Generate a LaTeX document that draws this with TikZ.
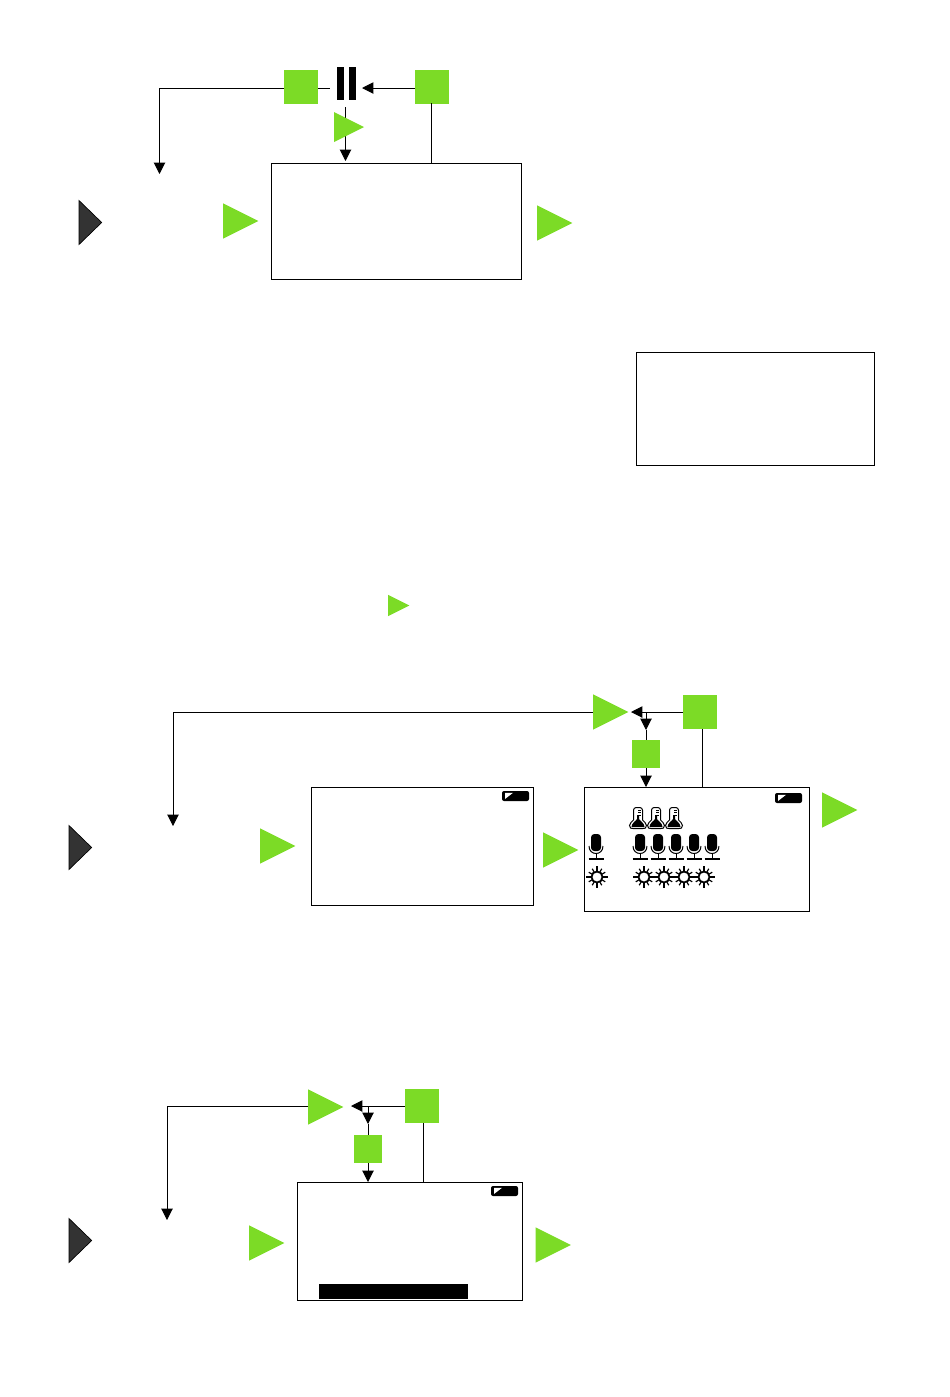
\documentclass[tikz,border=0pt]{standalone}
\usepackage{xcolor}
\definecolor{mygreen}{RGB}{124,219,38}
\definecolor{mydark}{RGB}{51,51,51}
\usetikzlibrary{arrows.meta, positioning, shapes.geometric, calc}

\tikzset{
  greenbox/.style={fill=mygreen, inner sep=0pt, outer sep=0pt, minimum width=25.5pt, minimum height=25.5pt},
  smallbox/.style={fill=mygreen, inner sep=0pt, outer sep=0pt, minimum width=21pt, minimum height=21pt},
  greentri/.style={isosceles triangle, isosceles triangle stretches, fill=mygreen, inner sep=0pt, outer sep=0pt,
    minimum width=26.5pt, minimum height=26.5pt, anchor=lower side},
  darktri/.style={isosceles triangle, isosceles triangle stretches, fill=mydark, draw=black, line width=0.5pt, inner sep=0pt, outer sep=0pt,
    minimum width=33pt, minimum height=17pt, anchor=lower side},
  screen/.style={draw=black, line width=0.75pt, inner sep=0pt, outer sep=0pt},
  blackbar/.style={fill=black, inner sep=0pt, outer sep=0pt},
  line/.style={black, line width=0.75pt},
  flow/.style={black, line width=0.75pt, -{Triangle[length=8.5pt,width=8.5pt]}},
  pics/battery/.style={code={
    \fill[black, rounded corners=1.5pt] (-13.5,-5) rectangle (13.5,5);
    \fill[white] (-10.5,3) -- (-2.5,-3.2) -- (-10.5,-3.2) -- cycle;
  }},
  pics/mic/.style={code={
    \fill[black, rounded corners=2.5pt] (-5,-13) rectangle (5,4);
    \draw[line] (-7,-1) .. controls (-7,9) and (7,9) .. (7,-1);
    \draw[line] (0,6.5) -- (0,12);
    \draw[line width=1.1pt] (-7.5,12) -- (7.5,12);
  }},
  pics/therm/.style={code={
    \draw[line, rounded corners=2pt] (-4.5,2) -- (-4.5,-10.5) -- (4.5,-10.5) -- (4.5,2);
    \draw[line] (-4.5,2) .. controls (-6,4) and (-8.5,5) .. (-8.5,7.5) .. controls (-8.5,10.5) and (-6.5,10.5) .. (-5,10.5) -- (5,10.5) .. controls (6.5,10.5) and (8.5,10.5) .. (8.5,7.5) .. controls (8.5,5) and (6,4) .. (4.5,2);
    \fill[black] (-1,-3) -- (1,-3) -- (1,1) .. controls (2,3) and (6.5,5) .. (6.5,9) -- (-6.5,9) .. controls (-6.5,5) and (-2,3) .. (-1,1) -- cycle;
    \draw[line] (0,-8) -- (3,-8) (0,-5.5) -- (3,-5.5) (0,-3) -- (3,-3);
  }},
  pics/sun/.style={code={
    \draw[line width=1.3pt] (0,0) circle (5.5);
    \foreach \a in {30,60,120,150,210,240,300,330} {
      \draw[line width=0.9pt] (\a:5.5) -- (\a:9.5);
    }
    \foreach \a in {0,90,180,270} {
      \draw[line width=0.9pt] (\a:5.5) -- (\a:11);
    }
  }}
}

\begin{document}
\begin{tikzpicture}[x=0.75pt, y=-0.75pt]
\useasboundingbox (0,0) rectangle (950,1397);

% --- Top diagram ---
\node[greenbox] (stopA) at (301,87) {};
\node[greenbox] (setA) at (432,87) {};
\node[blackbar, minimum width=5.5pt, minimum height=25pt] (pauseL) at (340.5,83.5) {};
\node[blackbar, minimum width=5.5pt, minimum height=25pt] (pauseR) at (352.5,83.5) {};
\node[screen, minimum width=188pt, minimum height=87pt] (scrA) at (396.5,221) {};
\coordinate (stopStub) at (330,88);
\coordinate (pauseIn) at (362,88);
\coordinate (pauseOut) at (345.5,107);
\coordinate (backA) at (159.5,174);
\coordinate (setDropA) at (431,103);

\draw[flow] (stopA.west |- stopStub) -| (backA);
\draw[line] (stopA.east |- stopStub) -- (stopStub);
\draw[flow] (setA.west |- pauseIn) -- (pauseIn);
\draw[line] (setDropA) -- (setDropA |- scrA.north);
\draw[flow] (pauseOut) -- ($(pauseOut |- scrA.north)+(0,-2)$);

\node[greentri, minimum width=22.5pt, minimum height=22.5pt] (triPause) at (334,127) {};
\node[darktri] (startA) at (79,222.5) {};
\node[greentri] (triInA) at (223,221) {};
\node[greentri] (triOutA) at (537,223) {};

% --- Note box and marker ---
\node[screen, minimum width=179pt, minimum height=84.5pt] (scrNote) at (755.5,409) {};
\node[greentri, minimum width=16pt, minimum height=16pt] (triNote) at (388,605.5) {};

% --- Middle diagram ---
\node[greenbox] (setB) at (700,712) {};
\node[smallbox] (modeB) at (646,754) {};
\node[screen, minimum width=166.5pt, minimum height=88.5pt] (scrB) at (422,846) {};
\node[screen, minimum width=168.5pt, minimum height=93pt] (scrC) at (697,849) {};
\coordinate (joinB) at (631,712);
\coordinate (dropB) at (646,712);
\coordinate (dropEndB) at (646,730);
\coordinate (backB) at (173,826);
\coordinate (triTipB) at (593,712);
\coordinate (setDropB) at (702,729);

\draw[flow] (setB.west) -- (joinB);
\draw[flow] (dropB) -- (dropEndB);
\draw[line] (dropEndB) -- (modeB.north);
\draw[flow] (modeB.south) -- (modeB.south |- scrC.north);
\draw[line] (setDropB) -- (setDropB |- scrC.north);
\draw[flow] (triTipB) -| (backB);

\node[greentri] (triTopB) at (593,712) {};
\node[darktri] (startB) at (69,847.5) {};
\node[greentri] (triInB) at (260,846) {};
\node[greentri] (triMidB) at (543,850) {};
\node[greentri] (triOutB) at (822,810) {};

\pic at (515.5,796) {battery};
\pic at (788.5,798) {battery};

% icons in the screen
\foreach \x in {638,656,674} {
  \pic at (\x,818) {therm};
}
\foreach \x in {596,640,658,676,694,712} {
  \pic at (\x,847) {mic};
}
\foreach \x in {597,644,664,684,704} {
  \pic at (\x,877) {sun};
}

% --- Bottom diagram ---
\node[greenbox] (setD) at (422,1106) {};
\node[smallbox] (modeD) at (368,1149) {};
\node[screen, minimum width=169pt, minimum height=88.5pt] (scrD) at (410,1241) {};
\node[blackbar, minimum width=112pt, minimum height=11pt] (barD) at (393.5,1291.5) {};
\coordinate (joinD) at (351,1106);
\coordinate (dropD) at (368,1106);
\coordinate (dropEndD) at (368,1124);
\coordinate (backD) at (167,1220);
\coordinate (triTipD) at (308,1106);
\coordinate (setDropD) at (423,1123);

\draw[flow] (setD.west) -- (joinD);
\draw[flow] (dropD) -- (dropEndD);
\draw[line] (dropEndD) -- (modeD.north);
\draw[flow] (modeD.south) -- (modeD.south |- scrD.north);
\draw[line] (setDropD) -- (setDropD |- scrD.north);
\draw[flow] (triTipD) -| (backD);

\node[greentri] (triTopD) at (308,1107) {};
\node[darktri] (startD) at (69,1240.5) {};
\node[greentri] (triInD) at (249,1243) {};
\node[greentri] (triOutD) at (535.5,1245) {};

\pic at (504.5,1191) {battery};

\end{tikzpicture}
\end{document}
